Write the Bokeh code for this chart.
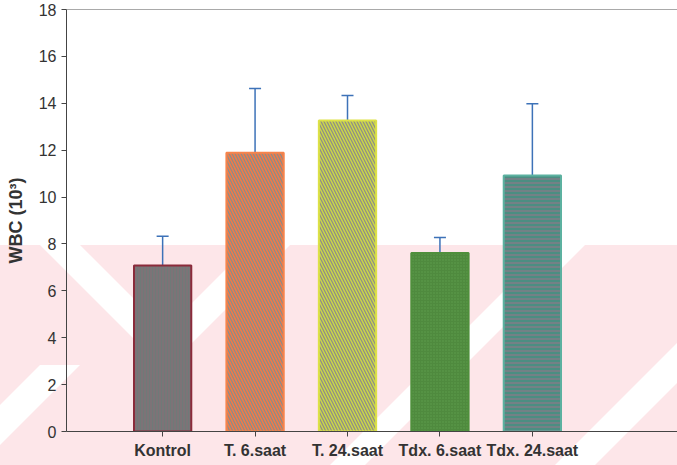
from urllib.parse import quote

from bokeh.plotting import figure
from bokeh.models import (ColumnDataSource, Range1d, FixedTicker, Whisker,
                          TeeHead, Span)
from bokeh.embed import file_html
from bokeh.resources import INLINE

# WBC counts (x10^3) per group: mean and upper standard deviation
groups = ["Kontrol", "T. 6.saat", "T. 24.saat", "Tdx. 6.saat", "Tdx. 24.saat"]
wbc_mean = [7.08, 11.89, 13.27, 7.61, 10.92]
wbc_sd = [1.25, 2.74, 1.06, 0.67, 3.06]
y_ticks = [0, 2, 4, 6, 8, 10, 12, 14, 16, 18]

# per-bar styling
fill_colors = ["#7d7377", "#f57a44", "#ccd846", "#4f8a3e", "#4b8e82"]
edge_colors = ["#8b2b3b", "#f6844c", "#dde247", "#4f8f3c", "#5cb1a0"]
hatch_patterns = ["vertical_line", "left_diagonal_line", "left_diagonal_line",
                  "dot", "horizontal_line"]
hatch_colors = ["#6f7a78", "#8d8b88", "#8f8f86", "#5f9c4c", "#8a7a88"]
hatch_scales = [3, 6, 6, 3, 4]
hatch_weights = [1, 1.3, 1.3, 1, 1.3]

xs = list(range(1, len(groups) + 1))
src = ColumnDataSource(dict(
    x=xs, top=wbc_mean, upper=[m + s for m, s in zip(wbc_mean, wbc_sd)],
    fill=fill_colors, edge=edge_colors, hp=hatch_patterns, hc=hatch_colors,
    hs=hatch_scales, hw=hatch_weights,
))

# faint pink chevron watermark behind the chart (page pixels)
watermark_svg = (
    "<svg xmlns='http://www.w3.org/2000/svg' width='677' height='465'>"
    "<rect x='0' y='245' width='677' height='220' fill='#fde6e9'/>"
    "<g fill='#ffffff'>"
    "<polygon points='40,245 80,245 165,330 250,245 290,245 165,370'/>"
    "<polygon points='330,465 365,465 585,245 550,245'/>"
    "<polygon points='555,465 595,465 815,245 775,245'/>"
    "<polygon points='-60,465 -20,465 80,365 40,365 0,405'/>"
    "</g></svg>"
)
watermark = "url(\"data:image/svg+xml;utf8," + quote(watermark_svg) + "\") no-repeat #ffffff"

p = figure(width=677, height=465, output_backend="svg", toolbar_location=None,
           x_range=Range1d(-0.04, 6.57), y_range=Range1d(0, 18),
           min_border_left=66, min_border_right=0, min_border_top=9,
           min_border_bottom=34, styles={"background": watermark})
p.background_fill_color = None
p.border_fill_color = None
p.outline_line_color = None
p.grid.visible = False

p.vbar(x="x", top="top", bottom=0, width=0.62, source=src,
       fill_color="fill", line_color="edge", line_width=2,
       hatch_pattern="hp", hatch_color="hc", hatch_scale="hs",
       hatch_weight="hw")

err_color = "#3d72b8"
p.add_layout(Whisker(source=src, base="x", lower="top", upper="upper",
                     dimension="height", line_color=err_color, line_width=1.5,
                     lower_head=None,
                     upper_head=TeeHead(size=12, line_color=err_color,
                                        line_width=1.5)))

# top border line of the plotting frame
p.add_layout(Span(location=18, dimension="width", line_color="#555555",
                  line_width=1))

axis_color = "#444444"
font = "Liberation Sans"

p.xaxis.ticker = FixedTicker(ticks=xs)
p.xaxis.major_label_overrides = {x: g for x, g in zip(xs, groups)}
p.xaxis.major_label_text_font = font
p.xaxis.major_label_text_font_style = "bold"
p.xaxis.major_label_text_font_size = "16px"
p.xaxis.major_label_text_color = "#333333"
p.xaxis.major_label_standoff = 5

p.yaxis.ticker = FixedTicker(ticks=y_ticks)
p.yaxis.major_label_text_font = font
p.yaxis.major_label_text_font_size = "16px"
p.yaxis.major_label_text_color = "#333333"
p.yaxis.major_label_standoff = 5
p.yaxis.axis_label = "WBC (10\u00b3)"
p.yaxis.axis_label_text_font = font
p.yaxis.axis_label_text_font_style = "bold"
p.yaxis.axis_label_text_font_size = "18px"
p.yaxis.axis_label_text_color = "#333333"
p.yaxis.axis_label_standoff = 10

for ax in (p.xaxis, p.yaxis):
    ax.axis_line_color = axis_color
    ax.axis_line_width = 1
    ax.major_tick_line_color = axis_color
    ax.major_tick_out = 5
    ax.major_tick_in = 0
    ax.minor_tick_line_color = None

open("out.html", "w").write(file_html(p, INLINE))
